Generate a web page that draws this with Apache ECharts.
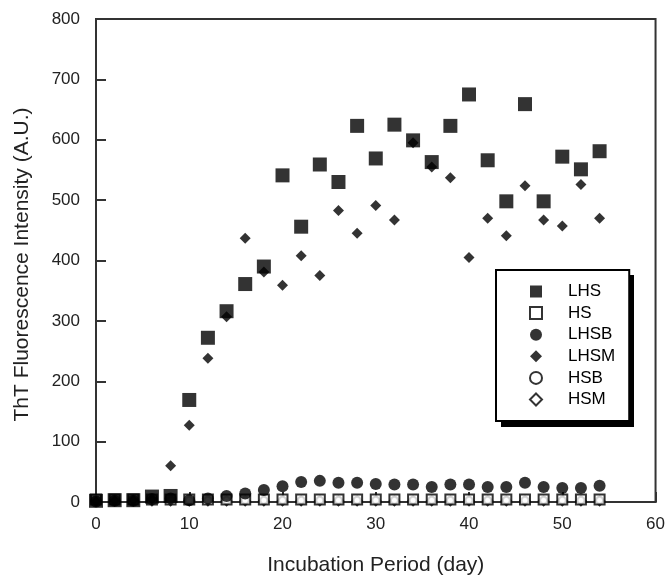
<!DOCTYPE html>
<html>
<head>
<meta charset="utf-8">
<script src="https://cdn.jsdelivr.net/npm/echarts@6/dist/echarts.min.js"></script>
<style>html,body{margin:0;padding:0;background:#fff}#c{width:668px;height:586px}</style>
</head>
<body>
<div id="c"></div>
<script>
const days = [0,2,4,6,8,10,12,14,16,18,20,22,24,26,28,30,32,34,36,38,40,42,44,46,48,50,52,54];
const LHS  = [2,3,3,9,10,169,272,316,361,390,541,456,559,530,623,569,625,599,563,623,675,566,498,659,498,572,551,581];
const HS   = [4,4,4,4,4,4,4,4,4,4,4,4,4,4,4,4,4,4,4,4,4,4,4,4,4,4,4,4];
const LHSB = [1,2,2,5,6,3,6,10,14,20,26,33,35,32,32,30,29,29,25,29,29,25,25,32,25,23,23,27];
const LHSM = [1,2,3,5,60,127,238,307,437,381,359,408,375,483,445,491,467,595,555,537,405,470,441,524,467,457,526,470];
const HSB  = [3,3,3,3,3,3,3,3,3,3,3,3,3,3,3,3,3,3,3,3,3,3,3,3,3,3,3,3];
const HSM  = [2,2,2,2,2,2,2,2,2,2,2,2,2,2,2,2,2,2,2,2,2,2,2,2,2,2,2,2];
const xTicks = [0,10,20,30,40,50,60];
const yTicks = [0,100,200,300,400,500,600,700,800];

const FONT = '"Liberation Sans", Arial, sans-serif';
function pts(vals){ return days.map((d,i)=>[d, vals[i]]); }
function ser(name, vals, symbol, size){
  return { name, type:'scatter', data: pts(vals), symbol, symbolSize: size, z: 3,
    itemStyle:{ color:'#000', borderColor:'#000', borderWidth: symbol.startsWith('empty') ? 1.5 : 0 } };
}
const chart = echarts.init(document.getElementById('c'), null, {renderer:'canvas'});
chart.setOption({
  animation:false,
  backgroundColor:'#fff',
  textStyle:{ fontFamily: FONT },
  grid:{ left:96, right:11, top:19, bottom:84, show:true, borderColor:'#333', borderWidth:2 },
  xAxis:{
    type:'value', min:0, max:60, interval:10,
    name:'Incubation Period (day)', nameLocation:'middle', nameGap:53,
    nameTextStyle:{ fontSize:21, color:'#222', fontFamily:FONT },
    axisLine:{ show:true, lineStyle:{ color:'#333', width:2 } },
    axisTick:{ show:true, inside:true, length:10, lineStyle:{ color:'#333', width:2 } },
    axisLabel:{ fontSize:17, color:'#222', margin:14, fontFamily:FONT,
      formatter: v => xTicks.includes(v) ? String(v) : '' },
    splitLine:{ show:false }
  },
  yAxis:{
    type:'value', min:0, max:800, interval:100,
    name:'ThT Fluorescence Intensity (A.U.)', nameLocation:'middle', nameGap:63,
    nameTextStyle:{ fontSize:21, color:'#222', fontFamily:FONT, padding:[0,0,0,-8] },
    axisLine:{ show:true, lineStyle:{ color:'#333', width:2 } },
    axisTick:{ show:true, inside:true, length:10, lineStyle:{ color:'#333', width:2 } },
    axisLabel:{ fontSize:17, color:'#222', margin:16, fontFamily:FONT,
      formatter: v => yTicks.includes(v) ? String(v) : '' },
    splitLine:{ show:false }
  },
  graphic:[{
    type:'rect', z:20, silent:true,
    shape:{ x:501, y:275, width:133, height:152 },
    style:{ fill:'#000' }
  }],
  legend:{
    orient:'vertical', left:496, top:270, z:30,
    padding:[13, 14, 13, 33],
    itemWidth:12, itemHeight:12, itemGap:4.6,
    backgroundColor:'#fff', borderColor:'#000', borderWidth:2,
    textStyle:{ fontSize:17, lineHeight:17, color:'#000', fontFamily:FONT, padding:[0,0,0,21] },
    data:['LHS','HS','LHSB','LHSM','HSB','HSM']
  },
  series:[
    ser('HSM', HSM, 'emptyDiamond', 9),
    ser('HSB', HSB, 'emptyCircle', 7),
    ser('HS', HS, 'emptyRect', 10),
    ser('LHSB', LHSB, 'circle', 12),
    ser('LHSM', LHSM, 'diamond', 11),
    ser('LHS', LHS, 'rect', 14)
  ]
});
</script>
</body>
</html>
